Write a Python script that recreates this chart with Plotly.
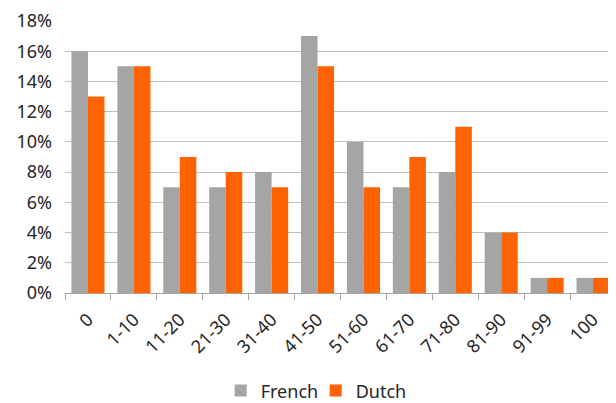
import plotly.graph_objects as go

categories = ["0", "1-10", "11-20", "21-30", "31-40", "41-50", "51-60", "61-70", "71-80", "81-90", "91-99", "100"]
french = [16, 15, 7, 7, 8, 17, 10, 7, 8, 4, 1, 1]
dutch = [13, 15, 9, 8, 7, 15, 7, 9, 11, 4, 1, 1]
y_ticks = [0, 2, 4, 6, 8, 10, 12, 14, 16, 18]
y_tick_labels = [f"{v}%" for v in y_ticks]

font_family = "Noto Sans, DejaVu Sans, sans-serif"

fig = go.Figure()
fig.add_trace(go.Bar(x=categories, y=french, name="French", marker=dict(color="#A5A5A5", line=dict(width=0))))
fig.add_trace(go.Bar(x=categories, y=dutch, name="Dutch", marker=dict(color="#FF6200", line=dict(width=0))))

fig.update_layout(
    width=608, height=395,
    margin=dict(l=57, r=0, t=13, b=110, autoexpand=False),
    paper_bgcolor="white", plot_bgcolor="white",
    barmode="group", bargap=0.28, bargroupgap=0,
    font=dict(family=font_family, size=18, color="#262626"),
    showlegend=True,
    legend=dict(orientation="h", x=0.455, xanchor="center", y=-0.36, yanchor="middle",
                font=dict(size=18, color="#262626"), itemwidth=30, tracegroupgap=0,
                entrywidth=50, entrywidthmode="pixels",
                bgcolor="rgba(0,0,0,0)"),
)
fig.update_xaxes(
    type="category", tickangle=-45, showgrid=False, automargin=False,
    showline=True, linecolor="#A6A6A6", linewidth=1,
    ticks="outside", tickson="boundaries", ticklen=6, tickcolor="#A6A6A6",
    tickfont=dict(size=18, color="#262626"), ticklabelstandoff=8,
)
fig.update_yaxes(
    range=[0, 18], tickvals=y_ticks, ticktext=y_tick_labels, automargin=False,
    showgrid=True, gridcolor="#BFBFBF", gridwidth=1,
    zeroline=False, showline=False,
    tickfont=dict(size=18, color="#262626"), ticklabelstandoff=12,
)

fig.write_html("out.html")
